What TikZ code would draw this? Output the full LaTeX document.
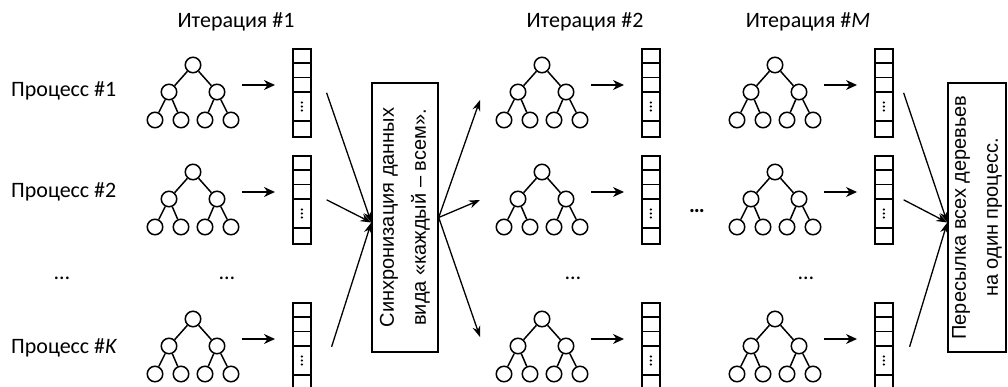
\documentclass[tikz,border=0pt]{standalone}
\usepackage{fontspec}
\setmainfont{Carlito}
\newfontfamily\boxfont{Liberation Sans}
\usetikzlibrary{arrows.meta}
\tikzstyle{vertex} = [draw, circle, minimum size=15.5pt, inner sep=0pt, line width=1.5pt]
\tikzstyle{arraybox} = [draw, rectangle, minimum width=18pt, minimum height=88pt,
  inner sep=0pt, line width=1.6pt]
\tikzstyle{procbox} = [draw, rectangle, minimum height=269pt, line width=1.4pt]
\tikzstyle{boxtext} = [rotate=90, align=center, inner sep=0pt,
  font=\boxfont\fontsize{20}{32}\selectfont]
\tikzstyle{headtext} = [inner sep=0pt, font=\fontsize{22}{26}\selectfont]
\tikzstyle{shortarrow} = [-{Stealth[length=11pt,width=10pt]}, line width=1.5pt]
\tikzstyle{longarrow} = [-{Stealth[length=11pt,width=8pt]}, line width=1.3pt]

\begin{document}
\begin{tikzpicture}[x=1pt, y=-1pt]
      \useasboundingbox (0,0) rectangle (1008,387);

      % Headers
      \node[headtext, anchor=base] (it1) at (236,28) {Итерация \#1};
      \node[headtext, anchor=base] (it2) at (585,28) {Итерация \#2};
      \node[headtext, anchor=base] (itm) at (808,28) {Итерация \#\textit{M}};

      % Processes
      \node[headtext, anchor=base west] (p1) at (11,97) {Процесс \#1};
      \node[headtext, anchor=base west] (p2) at (11,198) {Процесс \#2};
      \node[headtext, anchor=base] (pd) at (62,279) {…};
      \node[headtext, anchor=base west] (pk) at (11,353) {Процесс \#\textit{K}};

      % Trees and arrays
      \foreach \i/\x in {1/193,2/542,3/775} {
        \foreach \j/\y in {1/65,2/172,3/319} {
          \node[vertex] (r\i\j) at (\x,\y) {};
          \node[vertex] (l\i\j) at ({\x-24},{\y+27}) {};
          \node[vertex] (q\i\j) at ({\x+24},{\y+27}) {};
          \foreach \k/\d in {1/-38,2/-12,3/12,4/38}
            \node[vertex] (f\i\j\k) at ({\x+\d},{\y+55}) {};
          \draw[line width=1.5pt] (r\i\j) -- (l\i\j) (r\i\j) -- (q\i\j)
                (l\i\j) -- (f\i\j1) (l\i\j) -- (f\i\j2)
                (q\i\j) -- (f\i\j3) (q\i\j) -- (f\i\j4);

          \node[arraybox, anchor=north west] (a\i\j) at ({\x+99},{\y-17}) {};
          \foreach \c in {15,29.5,44,73}
            \draw[line width=1.6pt] ([yshift=-\c pt]a\i\j.north west) -- ([yshift=-\c pt]a\i\j.north east);
          \coordinate (d\i\j) at ([yshift=-58.5pt]a\i\j.north);
          \foreach \e in {-4,0,4}
            \fill ([yshift=\e pt]d\i\j) circle (1.2pt);

          \coordinate (s\i\j) at ({\x+49},{\y+20});
          \coordinate (e\i\j) at ({\x+82},{\y+20});
          \draw[shortarrow] (s\i\j) -- (e\i\j);
        }
      }

      % Gaps
      \node[headtext, anchor=base] (g1) at (227,279) {…};
      \node[headtext, anchor=base] (g2) at (573,279) {…};
      \node[headtext, anchor=base] (g3) at (806,279) {…};
      \node[headtext, anchor=base] (gm) at (697,213) {\textbf{…}};

      % Boxes
      \node[procbox, minimum width=66pt] (sync) at (405,217.5) {};
      \node[boxtext] (synct) at (sync) {Синхронизация данных\\вида «каждый – всем».};
      \node[procbox, minimum width=58pt] (gather) at (977,217.5) {};
      \node[boxtext] (gathert) at (gather) {Пересылка всех деревьев\\на один процесс.};

      % Exchange
      \draw[longarrow] ([xshift=15pt]a11.east) -- ([yshift=-5pt]sync.west);
      \draw[longarrow] ([xshift=15pt]a12.east) -- ([yshift=-5pt]sync.west);
      \draw[longarrow] ([xshift=20pt]a13.east) -- ([yshift=-5pt]sync.west);
      \coordinate (o1) at (480,100);
      \coordinate (o2) at (480,200);
      \coordinate (o3) at (480,337);
      \draw[longarrow] (sync.east) -- (o1);
      \draw[longarrow] (sync.east) -- (o2);
      \draw[longarrow] (sync.east) -- (o3);

      % Gather
      \draw[longarrow] ([xshift=10pt]a31.east) -- ([yshift=-5pt]gather.west);
      \draw[longarrow] ([xshift=10pt]a32.east) -- ([yshift=-5pt]gather.west);
      \draw[longarrow] ([xshift=16pt]a33.east) -- ([yshift=-5pt]gather.west);
    \end{tikzpicture}
\end{document}
